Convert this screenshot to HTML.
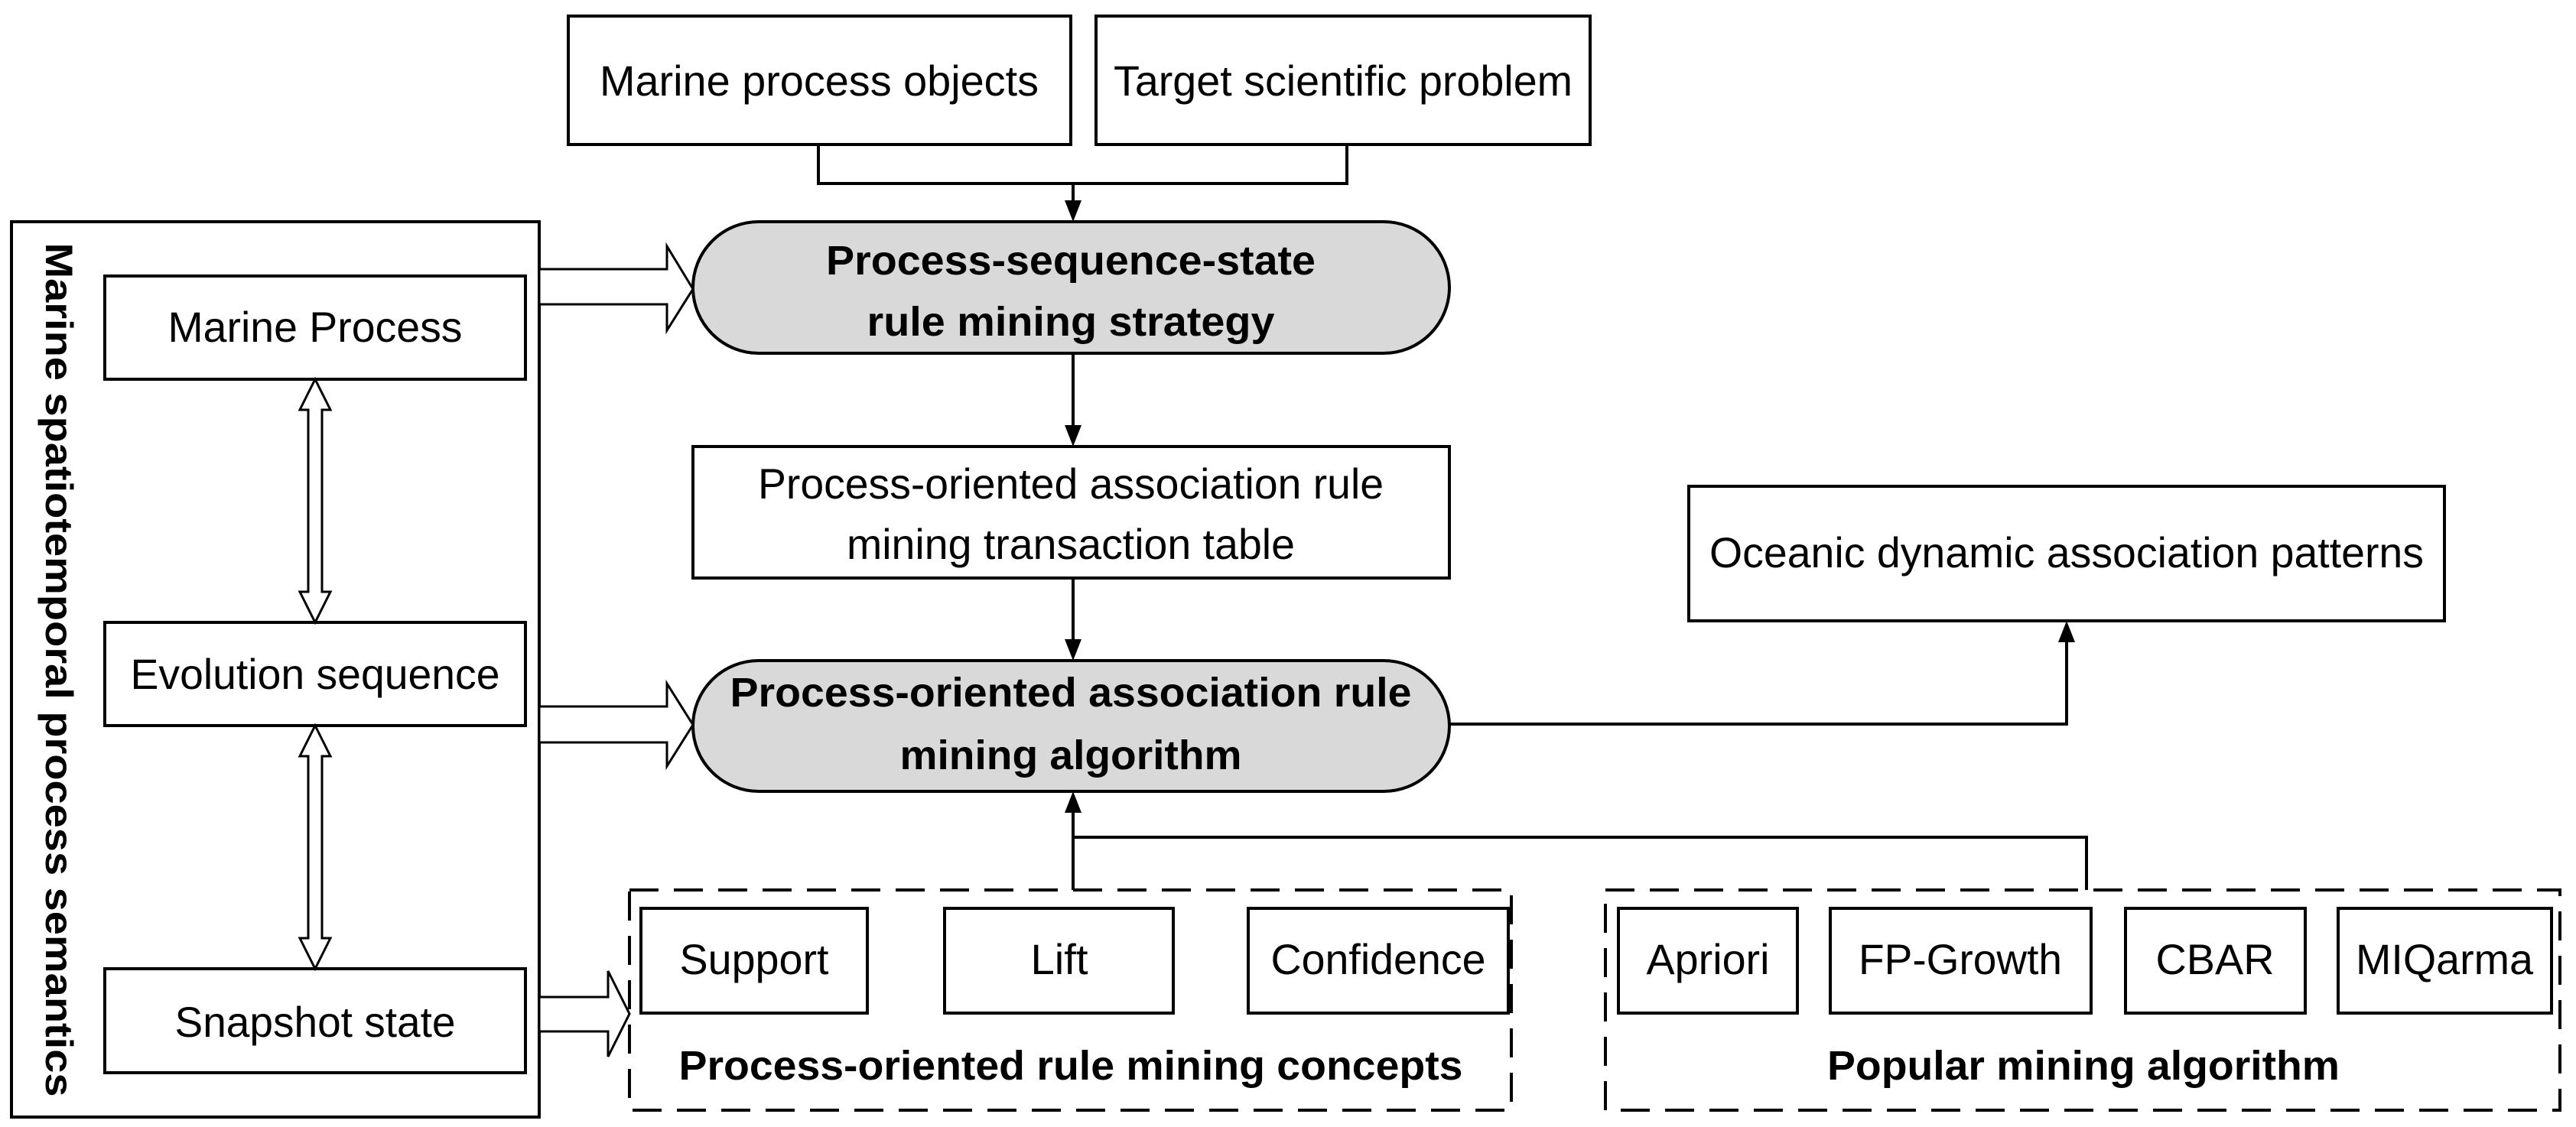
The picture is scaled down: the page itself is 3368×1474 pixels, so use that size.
<!DOCTYPE html>
<html><head><meta charset="utf-8"><style>html,body{margin:0;padding:0;background:#fff}svg{display:block}</style></head><body>
<svg width="3368" height="1474" viewBox="0 0 3368 1474" xmlns="http://www.w3.org/2000/svg" font-family="Liberation Sans, Arial, sans-serif" font-size="56">
<g fill="none" stroke="#000" stroke-width="4">
<rect x="743" y="21" width="657" height="168" fill="#fff"/>
<rect x="1433" y="21" width="646" height="168" fill="#fff"/>
<polyline points="1070,189 1070,240 1761,240 1761,189"/>
<line x1="1403" y1="240" x2="1403" y2="270"/>
<rect x="906" y="290" width="989" height="172" rx="86" ry="86" fill="#d9d9d9"/>
<line x1="1403" y1="462" x2="1403" y2="564"/>
<rect x="906" y="584" width="989" height="172" fill="#fff"/>
<line x1="1403" y1="756" x2="1403" y2="844"/>
<rect x="906" y="864" width="989" height="171" rx="86" ry="86" fill="#d9d9d9"/>
<rect x="2208" y="636" width="988" height="176" fill="#fff"/>
<polyline points="1895,947 2702,947 2702,832"/>
<rect x="15" y="290" width="690" height="1171" fill="none"/>
<rect x="137" y="361" width="550" height="135" fill="#fff"/>
<rect x="137" y="814" width="550" height="135" fill="#fff"/>
<rect x="137" y="1267" width="550" height="136" fill="#fff"/>
<rect x="823" y="1164" width="1153" height="288" stroke-dasharray="38,20"/>
<rect x="2099" y="1164" width="1248" height="288" stroke-dasharray="38,20"/>
<rect x="838" y="1188" width="296" height="137" fill="#fff"/>
<rect x="1235" y="1188" width="299" height="137" fill="#fff"/>
<rect x="1632" y="1188" width="340" height="137" fill="#fff"/>
<rect x="2116" y="1188" width="234" height="137" fill="#fff"/>
<rect x="2393" y="1188" width="341" height="137" fill="#fff"/>
<rect x="2779" y="1188" width="235" height="137" fill="#fff"/>
<rect x="3057" y="1188" width="279" height="137" fill="#fff"/>
<polyline points="1403,1164 1403,1095 2728,1095 2728,1164"/>
<line x1="1403" y1="1095" x2="1403" y2="1055"/>
</g>
<g fill="#000">
<polygon points="1392,262 1414,262 1403,290"/>
<polygon points="1392,556 1414,556 1403,584"/>
<polygon points="1392,836 1414,836 1403,864"/>
<polygon points="2691,840 2713,840 2702,812"/>
<polygon points="1392,1063 1414,1063 1403,1035"/>
</g>
<g fill="#fff" stroke="#000" stroke-width="3">
<polygon points="705,352 872,352 872,322 906,378 872,432 872,398 705,398"/>
<polygon points="705,924 872,924 872,894 906,948 872,1002 872,971 705,971"/>
<polygon points="705,1304 795,1304 795,1270 823,1326 795,1382 795,1349 705,1349"/>
<polygon points="412,496 432,536 421,536 421,774 432,774 412,814 392,774 403,774 403,536 392,536"/>
<polygon points="412,949 432,989 421,989 421,1227 432,1227 412,1267 392,1227 403,1227 403,989 392,989"/>
</g>
<g fill="#000" text-anchor="middle">
<text x="1071" y="125" textLength="574" lengthAdjust="spacingAndGlyphs">Marine process objects</text>
<text x="1756" y="125" textLength="600" lengthAdjust="spacingAndGlyphs">Target scientific problem</text>
<text x="1400" y="359" font-weight="bold" font-size="54" textLength="640" lengthAdjust="spacingAndGlyphs">Process-sequence-state</text>
<text x="1400" y="439" font-weight="bold" font-size="54" textLength="533" lengthAdjust="spacingAndGlyphs">rule mining strategy</text>
<text x="1400" y="652" textLength="818" lengthAdjust="spacingAndGlyphs">Process-oriented association rule</text>
<text x="1400" y="731" textLength="586" lengthAdjust="spacingAndGlyphs">mining transaction table</text>
<text x="1400" y="924" font-weight="bold" font-size="54" textLength="891" lengthAdjust="spacingAndGlyphs">Process-oriented association rule</text>
<text x="1400" y="1006" font-weight="bold" font-size="54" textLength="447" lengthAdjust="spacingAndGlyphs">mining algorithm</text>
<text x="2702" y="742" textLength="934" lengthAdjust="spacingAndGlyphs">Oceanic dynamic association patterns</text>
<text x="412" y="447" textLength="385" lengthAdjust="spacingAndGlyphs">Marine Process</text>
<text x="412" y="901" textLength="483" lengthAdjust="spacingAndGlyphs">Evolution sequence</text>
<text x="412" y="1356" textLength="367" lengthAdjust="spacingAndGlyphs">Snapshot state</text>
<text x="986" y="1274" textLength="195" lengthAdjust="spacingAndGlyphs">Support</text>
<text x="1385" y="1274" textLength="75" lengthAdjust="spacingAndGlyphs">Lift</text>
<text x="1802" y="1274" textLength="281" lengthAdjust="spacingAndGlyphs">Confidence</text>
<text x="2233" y="1274" textLength="161" lengthAdjust="spacingAndGlyphs">Apriori</text>
<text x="2563" y="1274" textLength="266" lengthAdjust="spacingAndGlyphs">FP-Growth</text>
<text x="2896" y="1274" textLength="155" lengthAdjust="spacingAndGlyphs">CBAR</text>
<text x="3196" y="1274" textLength="232" lengthAdjust="spacingAndGlyphs">MIQarma</text>
<text x="1400" y="1412" font-weight="bold" font-size="54" textLength="1025" lengthAdjust="spacingAndGlyphs">Process-oriented rule mining concepts</text>
<text x="2724" y="1412" font-weight="bold" font-size="54" textLength="670" lengthAdjust="spacingAndGlyphs">Popular mining algorithm</text>
<text transform="translate(60,876) rotate(90)" x="0" y="0" font-weight="bold" font-size="50" textLength="1117" lengthAdjust="spacingAndGlyphs">Marine spatiotemporal process semantics</text>
</g>
</svg>
</body></html>
